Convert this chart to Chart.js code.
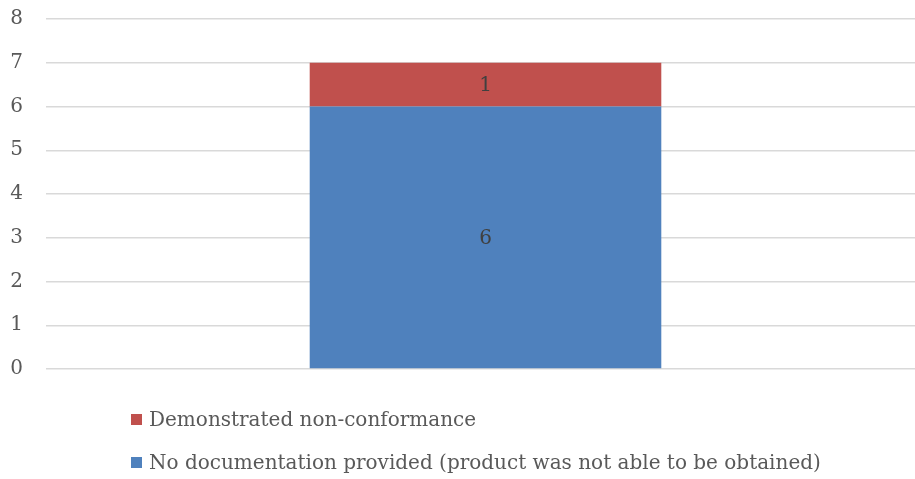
<!DOCTYPE html>
<html>
<head>
<meta charset="utf-8">
<script src="https://cdn.jsdelivr.net/npm/chart.js@4/dist/chart.umd.min.js"></script>
<style>
  html, body { margin: 0; padding: 0; background: #fff; overflow: hidden; }
  #wrap { width: 925px; height: 479px; position: relative; }
</style>
</head>
<body>
<div id="wrap"><canvas id="c"></canvas></div>
<script>
// Chart data
const categories = [''];
const noDocumentation = [6];
const nonConformance = [1];
const seriesLabels = [
  'No documentation provided (product was not able to be obtained)',
  'Demonstrated non-conformance'
];
const yTicks = [0, 1, 2, 3, 4, 5, 6, 7, 8];

const FONT = '"DejaVu Serif", serif';
const FONT_SIZE = 20;
const TEXT = '#595959';

// Value labels centred in each stacked segment
const segmentLabels = {
  id: 'segmentLabels',
  afterDatasetsDraw(chart) {
    const ctx = chart.ctx;
    ctx.save();
    ctx.font = FONT_SIZE + 'px ' + FONT;
    ctx.fillStyle = '#404040';
    ctx.textAlign = 'center';
    ctx.textBaseline = 'middle';
    chart.data.datasets.forEach((ds, i) => {
      chart.getDatasetMeta(i).data.forEach((bar, j) => {
        const p = bar.getProps(['x', 'y', 'base'], true);
        ctx.fillText(String(ds.data[j]), p.x, (p.y + p.base) / 2 + 1);
      });
    });
    ctx.restore();
  }
};

// Legend listed one entry per line, top series first
const stackedLegend = {
  id: 'stackedLegend',
  afterDraw(chart) {
    const ctx = chart.ctx;
    const area = chart.chartArea;
    const x0 = 131;
    const rows = chart.data.datasets.slice().reverse();
    ctx.save();
    ctx.font = FONT_SIZE + 'px ' + FONT;
    ctx.textBaseline = 'middle';
    rows.forEach((ds, k) => {
      const cy = area.bottom + 51 + k * 43;
      ctx.fillStyle = ds.backgroundColor;
      ctx.fillRect(x0, cy - 6, 11, 11);
      ctx.fillStyle = TEXT;
      ctx.fillText(ds.label, x0 + 18, cy + 1);
    });
    ctx.restore();
  }
};

new Chart(document.getElementById('c'), {
  type: 'bar',
  data: {
    labels: categories,
    datasets: [
      { label: seriesLabels[0], data: noDocumentation, backgroundColor: '#4f81bd' },
      { label: seriesLabels[1], data: nonConformance, backgroundColor: '#c0504d' }
    ]
  },
  options: {
    responsive: true,
    maintainAspectRatio: false,
    animation: false,
    layout: { padding: { top: 19, bottom: 110, left: 0, right: 0 } },
    datasets: { bar: { categoryPercentage: 1, barPercentage: 0.4 } },
    plugins: { legend: { display: false }, tooltip: { enabled: false } },
    scales: {
      x: { stacked: true, display: false },
      y: {
        stacked: true,
        min: 0,
        max: 8,
        afterBuildTicks(scale) { scale.ticks = yTicks.map(v => ({ value: v })); },
        afterFit(scale) {
          scale.width = 46;
          scale.paddingTop = 0;
          scale.paddingBottom = 0;
        },
        border: { display: false },
        grid: { color: '#d9d9d9', lineWidth: 1.5, drawTicks: false },
        ticks: { color: TEXT, font: { family: FONT, size: FONT_SIZE }, padding: 23 }
      }
    }
  },
  plugins: [segmentLabels, stackedLegend]
});
</script>
</body>
</html>
